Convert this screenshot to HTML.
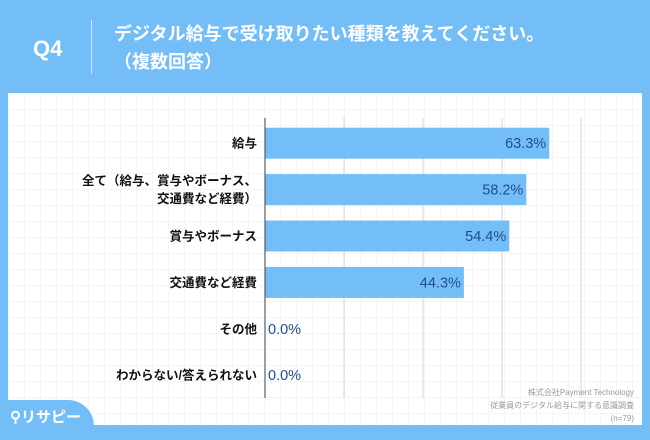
<!DOCTYPE html>
<html><head><meta charset="utf-8">
<style>
html,body{margin:0;padding:0}
body{width:650px;height:434px;background:#74bef8;position:relative;overflow:hidden;font-family:"Liberation Sans","Noto Sans CJK JP",sans-serif}
#panel{position:absolute;left:8px;top:93px;width:634px;height:332px;background:#fff;
background-image:linear-gradient(#f5f5f5 1px,transparent 1px),linear-gradient(90deg,#f5f5f5 1px,transparent 1px);background-size:16px 16px;}
.t{position:absolute;color:#fff;font-weight:bold}
</style></head><body>
<div class="t" style="left:33px;top:36px;font-size:22px">Q4</div>
<div style="position:absolute;left:91px;top:20px;width:1px;height:54px;background:#cfe6fb"></div>
<div class="t" style="left:114px;top:20px;font-size:18px;line-height:28px">デジタル給与で受け取りたい種類を教えてください。<br>（複数回答）</div>
<div id="panel"></div>
<svg id="chart" width="650" height="434" style="position:absolute;left:0;top:0"></svg>
<div style="position:absolute;right:16px;top:386px;text-align:right;font-size:8px;line-height:13px;color:#999">株式会社Payment Technology<br>従業員のデジタル給与に関する意識調査<br>(n=79)</div>
<div style="position:absolute;left:0;top:400px;width:94px;height:40px;background:#74bef8;border-top-right-radius:26px"></div>
<div style="position:absolute;left:10px;top:406px;color:#fff;font-size:15px;font-weight:bold">⚲リサピー</div>
<script>
const categories=["給与","全て（給与、賞与やボーナス、|交通費など経費）","賞与やボーナス","交通費など経費","その他","わからない/答えられない"];
const values=[63.3,58.2,54.4,44.3,0.0,0.0];
const gridTicks=[17.6,35.2,52.8,70.4];
const svg=document.getElementById('chart');
const NS='http://www.w3.org/2000/svg';
const x0=265,pxPer=4.49,top0=120,step=46.4,barH=31;
const xs=v=>x0+v*pxPer;
const yc=i=>top0+step*(i+0.5);
function mk(t,a){const e=document.createElementNS(NS,t);for(const k in a)e.setAttribute(k,a[k]);svg.appendChild(e);return e;}
gridTicks.forEach(t=>{const l=mk('line',{x1:xs(t),x2:xs(t),y1:118,y2:398,stroke:'#d6d6d6','stroke-width':1});

});
values.forEach((v,i)=>{
 const r=mk('rect',{x:x0,y:yc(i)-barH/2,width:Math.max(0,xs(v)-x0),height:barH,fill:'#74bef8'});
 
 
 const lab=v.toFixed(1)+'%';
 const inside=v>10;
 const tx=mk('text',{x:inside?xs(v)-3:x0+3,y:yc(i)+5,'text-anchor':inside?'end':'start','font-size':14.5,fill:'#1f4e8c'});
 tx.textContent=lab;
 
 
 const lines=categories[i].split('|');
 lines.forEach((s,j)=>{
  const c=mk('text',{x:x0-8,y:yc(i)+4.5+(j-(lines.length-1)/2)*18,'text-anchor':'end','font-size':12.5,'font-weight':'bold',fill:'#111'});
  c.textContent=s;
  
  
 });
});
const ax=mk('line',{x1:x0,x2:x0,y1:118,y2:398,stroke:'#444','stroke-width':1});


</script>
</body></html>
